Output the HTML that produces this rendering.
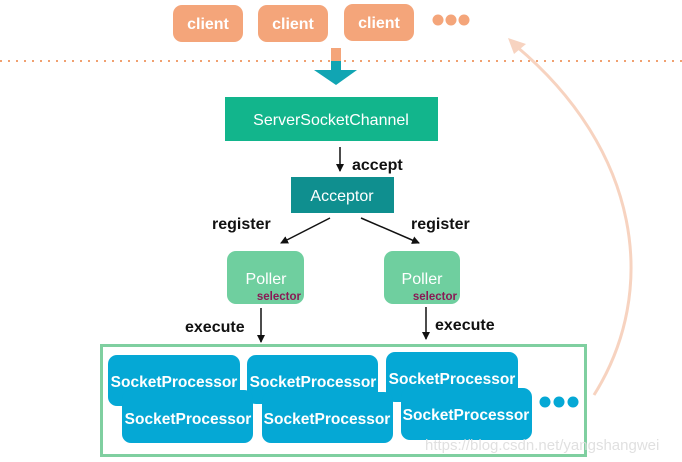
<!DOCTYPE html>
<html><head><meta charset="utf-8"><style>
html,body{margin:0;padding:0;background:#fff;}
svg{display:block;font-family:"Liberation Sans",Arial,sans-serif;}
</style></head><body>
<svg width="682" height="462" viewBox="0 0 682 462" xmlns="http://www.w3.org/2000/svg">
<defs>
<marker id="ah" markerWidth="8" markerHeight="8" refX="7" refY="4" orient="auto" markerUnits="userSpaceOnUse"><path d="M0,0 L8,4 L0,8 Z" fill="#111"/></marker>
</defs>
<g fill="#f4a57a">
<rect x="173" y="5" width="70" height="37" rx="9"/>
<rect x="258" y="5" width="70" height="37" rx="9"/>
<rect x="344" y="4" width="70" height="37" rx="9"/>
<circle cx="438" cy="20" r="5.5"/><circle cx="451" cy="20" r="5.5"/><circle cx="464" cy="20" r="5.5"/>
</g>
<g fill="#fff" font-weight="bold" font-size="16" text-anchor="middle">
<text x="208" y="29">client</text><text x="293" y="29">client</text><text x="379" y="28">client</text>
</g>
<line x1="0" y1="61" x2="682" y2="61" stroke="#f0a070" stroke-width="2" stroke-dasharray="2,6"/>
<rect x="331" y="48" width="10" height="13" fill="#f4a57a"/>
<rect x="331" y="61" width="10" height="9" fill="#11a5b3"/>
<polygon points="314,70 357,70 336,85" fill="#11a5b3"/>
<rect x="225" y="97" width="213" height="44" fill="#12b58c"/>
<text x="331" y="125" fill="#fff" font-size="16" text-anchor="middle">ServerSocketChannel</text>
<line x1="340" y1="147" x2="340" y2="171" stroke="#111" stroke-width="1.5" marker-end="url(#ah)"/>
<text x="352" y="170" font-size="16" font-weight="bold" fill="#111">accept</text>
<rect x="291" y="177" width="103" height="36" fill="#0f8f8f"/>
<text x="342" y="201" fill="#fff" font-size="16" text-anchor="middle">Acceptor</text>
<line x1="330" y1="218" x2="281" y2="243" stroke="#111" stroke-width="1.5" marker-end="url(#ah)"/>
<line x1="361" y1="218" x2="419" y2="243" stroke="#111" stroke-width="1.5" marker-end="url(#ah)"/>
<text x="212" y="229" font-size="16" font-weight="bold" fill="#111">register</text>
<text x="411" y="229" font-size="16" font-weight="bold" fill="#111">register</text>
<rect x="227" y="251" width="77" height="53" rx="9" fill="#6fcf9f"/>
<rect x="384" y="251" width="76" height="53" rx="9" fill="#6fcf9f"/>
<text x="266" y="284" fill="#fff" font-size="16" text-anchor="middle">Poller</text>
<text x="422" y="284" fill="#fff" font-size="16" text-anchor="middle">Poller</text>
<text x="301" y="300" fill="#8a1a55" font-size="11.5" font-weight="bold" text-anchor="end">selector</text>
<text x="457" y="300" fill="#8a1a55" font-size="11.5" font-weight="bold" text-anchor="end">selector</text>
<line x1="261" y1="308" x2="261" y2="342" stroke="#111" stroke-width="1.5" marker-end="url(#ah)"/>
<line x1="426" y1="307" x2="426" y2="339" stroke="#111" stroke-width="1.5" marker-end="url(#ah)"/>
<text x="185" y="332" font-size="16" font-weight="bold" fill="#111">execute</text>
<text x="435" y="330" font-size="16" font-weight="bold" fill="#111">execute</text>
<rect x="101.5" y="345.5" width="484" height="110" fill="none" stroke="#7fcfa0" stroke-width="3"/>
<g fill="#05a8d5">
<rect x="108" y="355" width="132" height="51" rx="9"/>
<rect x="247" y="355" width="131" height="49" rx="9"/>
<rect x="386" y="352" width="132" height="50" rx="9"/>
<rect x="122" y="390" width="131" height="53" rx="9"/>
<rect x="262" y="392" width="131" height="51" rx="9"/>
<rect x="401" y="388" width="131" height="52" rx="9"/>
<circle cx="545" cy="402" r="5.5"/><circle cx="559" cy="402" r="5.5"/><circle cx="573" cy="402" r="5.5"/>
</g>
<g fill="#fff" font-size="15.5" font-weight="bold" text-anchor="middle">
<text x="174" y="387">SocketProcessor</text>
<text x="313" y="387">SocketProcessor</text>
<text x="452" y="384">SocketProcessor</text>
<text x="188" y="424">SocketProcessor</text>
<text x="327" y="424">SocketProcessor</text>
<text x="466" y="420">SocketProcessor</text>
</g>
<text x="425" y="450" fill="#ddd" font-size="15" opacity="0.9">https://blog.csdn.net/yangshangwei</text>
<path d="M594,395 C660,290 640,150 516,46" fill="none" stroke="#f7d3c0" stroke-width="3"/>
<polygon points="508,38 526,44 514,54" fill="#f7d3c0"/>
</svg>
</body></html>
